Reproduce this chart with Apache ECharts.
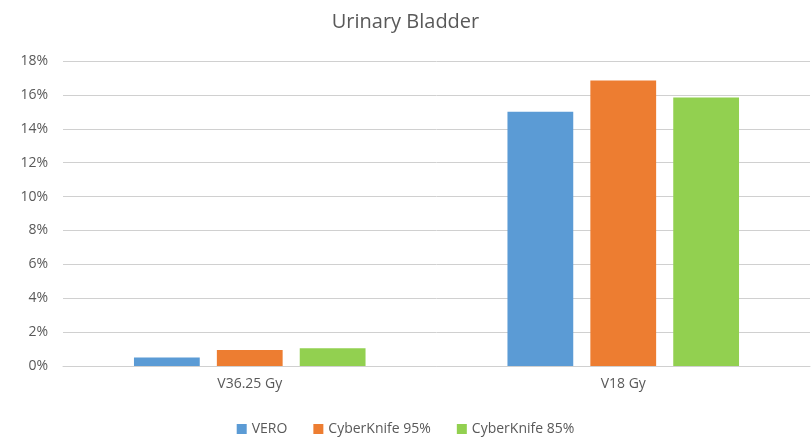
<!DOCTYPE html>
<html lang="en" style="height: 100%">
<head>
  <meta charset="utf-8">
</head>
<body style="height: 100%; margin: 0">
  <div id="container" style="height: 100%"></div>

  <script type="text/javascript" src="https://fastly.jsdelivr.net/npm/echarts@6.0.0/dist/echarts.min.js"></script>

  <script type="text/javascript">
    // data
    var categories = ['V36.25 Gy', 'V18 Gy'];
    var vero = [0.5, 15.0];
    var ck95 = [0.95, 16.85];
    var ck85 = [1.05, 15.85];
    var seriesNames = ['VERO', 'CyberKnife 95%', 'CyberKnife 85%'];
    var colors = ['#5B9BD5', '#ED7D31', '#92D050'];

    var dom = document.getElementById('container');
    var myChart = echarts.init(dom, null, { renderer: 'canvas' });

    var font = 'Open Sans, sans-serif';
    var txt = '#595959';

    function bar(name, data, i) {
      return {
        name: name,
        type: 'bar',
        data: data,
        barGap: '26%',
        barCategoryGap: '38%',
        itemStyle: { color: colors[i] }
      };
    }

    var option = {
      title: {
        text: 'Urinary Bladder',
        left: 'center',
        top: 7,
        textStyle: { color: txt, fontSize: 20, fontWeight: 'normal', fontFamily: font }
      },
      legend: {
        bottom: -3,
        left: 'center',
        itemWidth: 10,
        itemHeight: 10,
        itemGap: 26,
        icon: 'rect',
        textStyle: { color: txt, fontSize: 14, fontFamily: font },
        data: seriesNames
      },
      grid: { left: 63, right: 1, top: 61, bottom: 72 },
      xAxis: {
        type: 'category',
        data: categories,
        axisTick: { show: false },
        axisLine: { lineStyle: { color: '#d0d0d0' } },
        axisLabel: { color: txt, fontSize: 14, fontFamily: font, margin: 11 }
      },
      yAxis: {
        type: 'value',
        min: 0,
        max: 18,
        interval: 2,
        axisLine: { show: false },
        axisTick: { show: false },
        splitLine: { lineStyle: { color: '#d0d0d0' } },
        axisLabel: {
          color: txt, fontSize: 14, fontFamily: font, margin: 15,
          formatter: function (v) { return v + '%'; }
        }
      },
      series: [
        bar(seriesNames[0], vero, 0),
        bar(seriesNames[1], ck95, 1),
        bar(seriesNames[2], ck85, 2)
      ]
    };

    myChart.setOption(option);
    window.addEventListener('resize', myChart.resize);
  </script>
</body>
</html>
